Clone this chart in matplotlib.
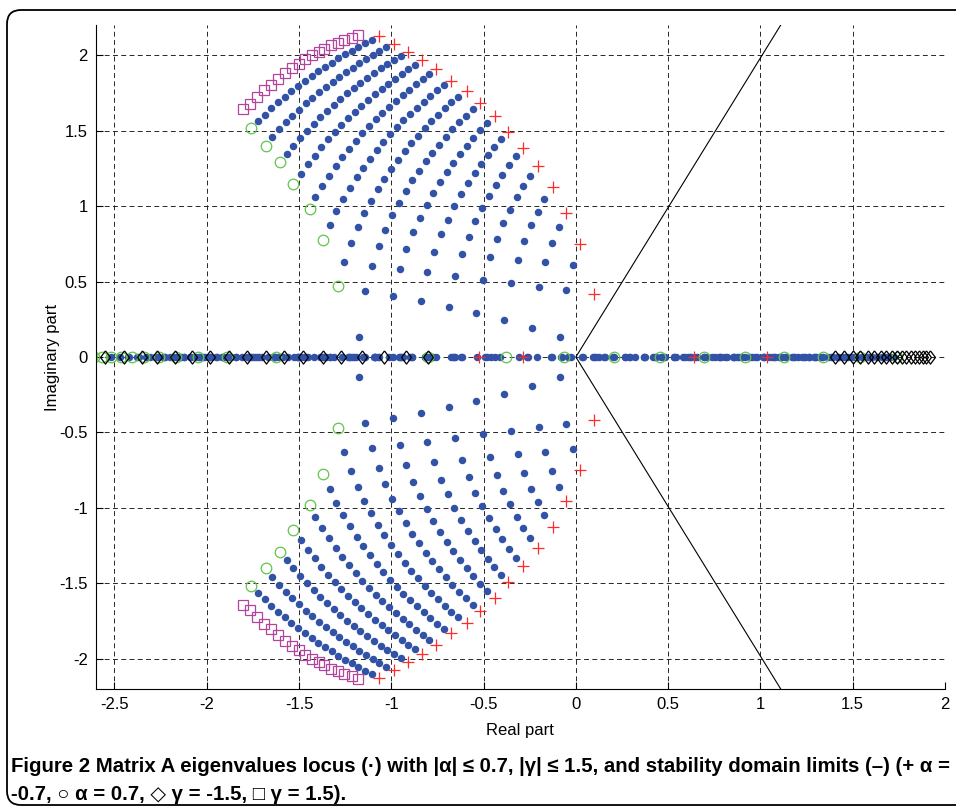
import numpy as np
import matplotlib.pyplot as plt
from matplotlib.patches import FancyBboxPatch
from matplotlib.transforms import IdentityTransform

# ---- complex eigenvalues (upper half plane), one curve per gamma level ----
# alpha runs from -0.7 side (left list end = near the '+') to the 0.7 side
g01_re = [-1.105, -1.142, -1.178, -1.214, -1.251, -1.287, -1.323, -1.359, -1.396, -1.432, -1.468, -1.505, -1.541, -1.577, -1.614, -1.650, -1.686, -1.722]
g01_im = [2.102, 2.079, 2.056, 2.031, 2.006, 1.979, 1.951, 1.923, 1.893, 1.862, 1.830, 1.796, 1.761, 1.725, 1.687, 1.648, 1.606, 1.563]
g02_re = [-1.027, -1.064, -1.100, -1.136, -1.173, -1.209, -1.245, -1.282, -1.318, -1.354, -1.390, -1.427, -1.463, -1.499, -1.536, -1.572, -1.608, -1.645]
g02_im = [2.052, 2.027, 2.001, 1.974, 1.946, 1.918, 1.887, 1.856, 1.824, 1.790, 1.755, 1.718, 1.680, 1.640, 1.598, 1.554, 1.508, 1.460]
g03_re = [-0.950, -0.986, -1.022, -1.058, -1.095, -1.131, -1.167, -1.204, -1.240, -1.276, -1.313, -1.349, -1.385, -1.421, -1.458, -1.494, -1.530, -1.567]
g03_im = [1.997, 1.970, 1.942, 1.912, 1.882, 1.851, 1.818, 1.784, 1.748, 1.711, 1.673, 1.632, 1.590, 1.546, 1.499, 1.451, 1.399, 1.345]
g04_re = [-0.872, -0.908, -0.944, -0.981, -1.017, -1.053, -1.089, -1.126, -1.162, -1.198, -1.235, -1.271, -1.307, -1.344, -1.380, -1.416, -1.452, -1.489]
g04_im = [1.937, 1.908, 1.877, 1.845, 1.812, 1.778, 1.742, 1.705, 1.666, 1.625, 1.582, 1.538, 1.491, 1.442, 1.390, 1.335, 1.276, 1.214]
g05_re = [-0.794, -0.830, -0.866, -0.903, -0.939, -0.975, -1.012, -1.048, -1.084, -1.120, -1.157, -1.193, -1.229, -1.266, -1.302, -1.338, -1.375, -1.411]
g05_im = [1.872, 1.840, 1.807, 1.772, 1.736, 1.698, 1.659, 1.618, 1.575, 1.530, 1.483, 1.433, 1.380, 1.325, 1.266, 1.202, 1.135, 1.061]
g06_re = [-0.716, -0.752, -0.788, -0.825, -0.861, -0.897, -0.934, -0.970, -1.006, -1.043, -1.079, -1.115, -1.151, -1.188, -1.224, -1.260, -1.297, -1.333]
g06_im = [1.802, 1.767, 1.731, 1.693, 1.653, 1.611, 1.568, 1.523, 1.475, 1.424, 1.371, 1.315, 1.255, 1.191, 1.123, 1.048, 0.967, 0.876]
g07_re = [-0.638, -0.674, -0.711, -0.747, -0.783, -0.819, -0.856, -0.892, -0.928, -0.965, -1.001, -1.037, -1.074, -1.110, -1.146, -1.182, -1.219, -1.255]
g07_im = [1.725, 1.687, 1.647, 1.605, 1.561, 1.515, 1.467, 1.416, 1.363, 1.306, 1.245, 1.180, 1.111, 1.035, 0.952, 0.860, 0.754, 0.629]
g08_re = [-0.560, -0.596, -0.633, -0.669, -0.705, -0.742, -0.778, -0.814, -0.850, -0.887, -0.923, -0.959, -0.996, -1.032, -1.068, -1.105, -1.141, -1.177]
g08_im = [1.641, 1.599, 1.555, 1.508, 1.460, 1.408, 1.354, 1.297, 1.235, 1.170, 1.099, 1.022, 0.938, 0.844, 0.735, 0.606, 0.437, 0.135]
g09_re = [-0.482, -0.518, -0.555, -0.591, -0.627, -0.664, -0.700, -0.736, -0.773, -0.809, -0.845, -0.881, -0.918, -0.954, -0.990]
g09_im = [1.549, 1.502, 1.453, 1.401, 1.346, 1.288, 1.226, 1.160, 1.088, 1.010, 0.924, 0.828, 0.717, 0.583, 0.404]
g10_re = [-0.404, -0.441, -0.477, -0.513, -0.549, -0.586, -0.622, -0.658, -0.695, -0.731, -0.767, -0.804, -0.840]
g10_im = [1.446, 1.394, 1.338, 1.280, 1.217, 1.150, 1.077, 0.998, 0.911, 0.812, 0.698, 0.560, 0.368]
g11_re = [-0.326, -0.363, -0.399, -0.435, -0.472, -0.508, -0.544, -0.580, -0.617, -0.653, -0.689]
g11_im = [1.331, 1.272, 1.208, 1.140, 1.067, 0.987, 0.898, 0.797, 0.680, 0.536, 0.331]
g12_re = [-0.248, -0.285, -0.321, -0.357, -0.394, -0.430, -0.466, -0.503, -0.539]
g12_im = [1.200, 1.131, 1.057, 0.975, 0.885, 0.782, 0.662, 0.512, 0.290]
g13_re = [-0.171, -0.207, -0.243, -0.279, -0.316, -0.352, -0.388]
g13_im = [1.047, 0.964, 0.872, 0.768, 0.645, 0.489, 0.244]
g14_re = [-0.093, -0.129, -0.165, -0.202, -0.238]
g14_im = [0.860, 0.754, 0.627, 0.465, 0.190]
g15_re = [-0.015, -0.051, -0.087]
g15_im = [0.610, 0.441, 0.135]

# ---- real eigenvalues (on the real axis), per gamma level ----
real_g09 = [-0.898, -1.155, -0.617, -1.509, -0.480, -1.718]
real_g10 = [-0.665, -1.087, -0.436, -1.389, -0.306, -1.591, -0.210, -1.760, -0.132, -1.911]
real_g11 = [-0.458, -0.993, -0.257, -1.267, -0.134, -1.462, -0.041, -1.628, 0.035, -1.777, 0.100, -1.914, 0.157, -2.044]
real_g12 = [-0.263, -0.887, -0.081, -1.142, 0.036, -1.332, 0.127, -1.495, 0.201, -1.642, 0.265, -1.778, 0.321, -1.907,
            0.371, -2.029, 0.416, -2.147]
real_g13 = [-0.075, -0.775, 0.093, -1.015, 0.206, -1.200, 0.294, -1.361, 0.367, -1.506, 0.429, -1.641, 0.484, -1.769,
            0.534, -1.891, 0.579, -2.009, 0.620, -2.122, 0.657, -2.232]
real_g14 = [0.109, -0.657, 0.266, -0.886, 0.374, -1.068, 0.460, -1.226, 0.531, -1.370, 0.593, -1.504, 0.647, -1.631,
            0.696, -1.752, 0.740, -1.869, 0.781, -1.982, 0.818, -2.092, 0.853, -2.200, 0.885, -2.305]
real_g15 = [0.288, -0.535, 0.436, -0.756, 0.541, -0.934, 0.625, -1.090, 0.695, -1.233, 0.756, -1.366, 0.810, -1.492,
            0.858, -1.613, 0.902, -1.730, 0.942, -1.842, 0.979, -1.952, 1.013, -2.059, 1.045, -2.164, 1.075, -2.266,
            1.104, -2.367]
real_g16 = [0.151, -0.025, 0.465, -0.411, 0.606, -0.624, 0.708, -0.799, 0.789, -0.953, 0.858, -1.095, 0.918, -1.227,
            0.971, -1.353, 1.019, -1.473, 1.062, -1.589, 1.102, -1.702, 1.139, -1.811, 1.173, -1.918, 1.205, -2.022,
            1.235, -2.125, 1.263, -2.226, 1.290, -2.325, 1.315, -2.423]
real_g17 = [0.774, -0.491, 0.873, -0.663, 0.953, -0.816, 1.021, -0.956, 1.080, -1.088, 1.132, -1.213, 1.180, -1.333,
            1.223, -1.449, 1.262, -1.561, 1.299, -1.670, 1.333, -1.777, 1.364, -1.881, 1.394, -1.983, 1.422, -2.084,
            1.449, -2.183, 1.474, -2.281, 1.498, -2.377, 1.520, -2.472]
real_g18 = [1.116, -0.678, 1.183, -0.817, 1.241, -0.948, 1.293, -1.073, 1.340, -1.192, 1.383, -1.308, 1.422, -1.419,
            1.458, -1.528, 1.492, -1.635, 1.524, -1.739, 1.553, -1.841, 1.581, -1.942, 1.607, -2.041, 1.632, -2.138,
            1.656, -2.235, 1.679, -2.330, 1.700, -2.424, 1.721, -2.517]

# ---- boundary markers ----
# + alpha = -0.7
plus_re = [-1.069, -0.988, -0.908, -0.833, -0.757, -0.676, -0.589, -0.518, -0.437, -0.367, -0.285, -0.203, -0.125, -0.053, 0.023, 0.099]
plus_im = [2.124, 2.073, 2.020, 1.967, 1.907, 1.828, 1.762, 1.682, 1.596, 1.490, 1.384, 1.267, 1.124, 0.956, 0.746, 0.417]
plus_real = [0.639, -0.284, 1.037, -0.526]
# o alpha = 0.7
circ_re = [-1.759, -1.681, -1.602, -1.530, -1.443, -1.369, -1.291]
circ_im = [1.517, 1.399, 1.291, 1.146, 0.978, 0.775, 0.470]
circ_real = [-0.803, -1.624, -0.380, -1.891, -0.066, -2.050, 0.208, -2.167, 0.458, -2.261, 0.692, -2.340,
             0.915, -2.407, 1.130, -2.467, 1.339, -2.519, 1.542, -2.566, 1.741, -2.609]
# diamond gamma = -1.5 (all real)
diam_real = [-0.80, -0.92, -1.04, -1.16, -1.27, -1.37, -1.48, -1.58, -1.68, -1.78, -1.88, -1.98, -2.08, -2.17,
             -2.27, -2.35, -2.45, -2.55,
             1.402, 1.453, 1.500, 1.542, 1.581, 1.617, 1.651, 1.682, 1.712, 1.740, 1.766, 1.791, 1.814, 1.837,
             1.858, 1.879, 1.899, 1.918]
# square gamma = 1.5
sq_re = [-1.806, -1.768, -1.728, -1.689, -1.651, -1.616, -1.575, -1.538, -1.499, -1.466, -1.430, -1.394, -1.362,
         -1.326, -1.289, -1.254, -1.213, -1.181]
sq_im = [1.642, 1.674, 1.726, 1.766, 1.801, 1.841, 1.879, 1.912, 1.940, 1.972, 2.000, 2.022, 2.044, 2.066, 2.084,
         2.099, 2.117, 2.137]

# stability domain limits
stab_x = [1.11, 0.0, 1.11]
stab_y = [2.2, 0.0, -2.2]

xticks = [-2.5, -2, -1.5, -1, -0.5, 0, 0.5, 1, 1.5, 2]
xtick_labels = ['-2.5', '-2', '-1.5', '-1', '-0.5', '0', '0.5', '1', '1.5', '2']
yticks = [-2, -1.5, -1, -0.5, 0, 0.5, 1, 1.5, 2]
ytick_labels = ['-2', '-1.5', '-1', '-0.5', '0', '0.5', '1', '1.5', '2']

caption_1 = ('Figure 2 Matrix A eigenvalues locus (\u00b7) with |\u03b1| \u2264 0.7, |\u03b3| \u2264 1.5, '
             'and stability domain limits (\u2013) (+ \u03b1 =')
caption_2 = '-0.7, \u25cb \u03b1 = 0.7, \u25c7 \u03b3 = -1.5, \u25a1 \u03b3 = 1.5).'

BLUE = '#3152a6'
RED = '#ff2a2a'
GREEN = '#62c44c'
MAGENTA = '#b2449e'

plt.rcParams['font.family'] = ['Liberation Sans', 'DejaVu Sans']

fig = plt.figure(figsize=(9.56, 8.11), dpi=100)
ax = fig.add_axes([96 / 956, 122 / 811, 849 / 956, 664 / 811])
ax.set_xlim(-2.6, 2.0)
ax.set_ylim(-2.2, 2.2)

ax.grid(True, linestyle=(0, (5, 3.5)), color='0.15', linewidth=0.7)
ax.set_axisbelow(True)

dot = dict(linestyle='none', marker='o', ms=5.4, color=BLUE, mec='none')
curves = [(g01_re, g01_im), (g02_re, g02_im), (g03_re, g03_im), (g04_re, g04_im), (g05_re, g05_im),
          (g06_re, g06_im), (g07_re, g07_im), (g08_re, g08_im), (g09_re, g09_im), (g10_re, g10_im),
          (g11_re, g11_im), (g12_re, g12_im), (g13_re, g13_im), (g14_re, g14_im), (g15_re, g15_im)]
for re, im in curves:
    ax.plot(re, im, **dot)
    ax.plot(re, np.negative(im), **dot)
for vals in [real_g09, real_g10, real_g11, real_g12, real_g13, real_g14, real_g15, real_g16, real_g17, real_g18]:
    ax.plot(vals, np.zeros(len(vals)), **dot)

ax.plot(stab_x, stab_y, color='black', linewidth=0.8)

plus = dict(linestyle='none', marker='+', ms=8.5, mew=0.9, color=RED)
ax.plot(plus_re, plus_im, **plus)
ax.plot(plus_re, np.negative(plus_im), **plus)
ax.plot(plus_real, np.zeros(len(plus_real)), **plus)

circ = dict(linestyle='none', marker='o', ms=7.6, mew=0.9, mfc='none', mec=GREEN)
ax.plot(circ_re, circ_im, **circ)
ax.plot(circ_re, np.negative(circ_im), **circ)
ax.plot(circ_real, np.zeros(len(circ_real)), **circ)

diamond = [(0, 1), (0.75, 0), (0, -1), (-0.75, 0), (0, 1)]
ax.plot(diam_real, np.zeros(len(diam_real)), linestyle='none', marker=diamond, ms=9.5, mew=0.9,
        mfc='none', mec='black')

sq = dict(linestyle='none', marker='s', ms=7.4, mew=0.9, mfc='none', mec=MAGENTA)
ax.plot(sq_re, sq_im, **sq)
ax.plot(sq_re, np.negative(sq_im), **sq)

ax.set_xticks(xticks)
ax.set_xticklabels(xtick_labels)
ax.set_yticks(yticks)
ax.set_yticklabels(ytick_labels)
ax.tick_params(direction='in', length=5, width=0.8, labelsize=12, pad=6)
ax.spines['top'].set_visible(False)
ax.spines['right'].set_visible(False)
for s in ['left', 'bottom']:
    ax.spines[s].set_linewidth(0.8)

fig.text(520 / 956, 1 - 731 / 811, 'Real part', ha='center', va='center', fontsize=12)
fig.text(52 / 956, 1 - 357 / 811, 'Imaginary part', ha='center', va='center', rotation=90, fontsize=12)

cap_font = ['Liberation Sans', 'DejaVu Sans']
cap1 = fig.text(11 / 956, 1 - 766 / 811, caption_1, ha='left', va='center', fontsize=14, fontweight='bold',
                family=cap_font)
cap2 = fig.text(11 / 956, 1 - 794 / 811, caption_2, ha='left', va='center', fontsize=14, fontweight='bold',
                family=cap_font)
# shrink the caption so the first line ends at the right edge like the original
fig.canvas.draw()
w = cap1.get_window_extent().width
fs = 14 * 940 / w
cap1.set_fontsize(fs)
cap2.set_fontsize(fs)

border = FancyBboxPatch((7, 6), 990, 795, boxstyle='round,pad=0,rounding_size=14',
                        transform=IdentityTransform(), fill=False, ec='black', lw=1.3, clip_on=False)
fig.add_artist(border)

fig.savefig('out.png', dpi=100)
